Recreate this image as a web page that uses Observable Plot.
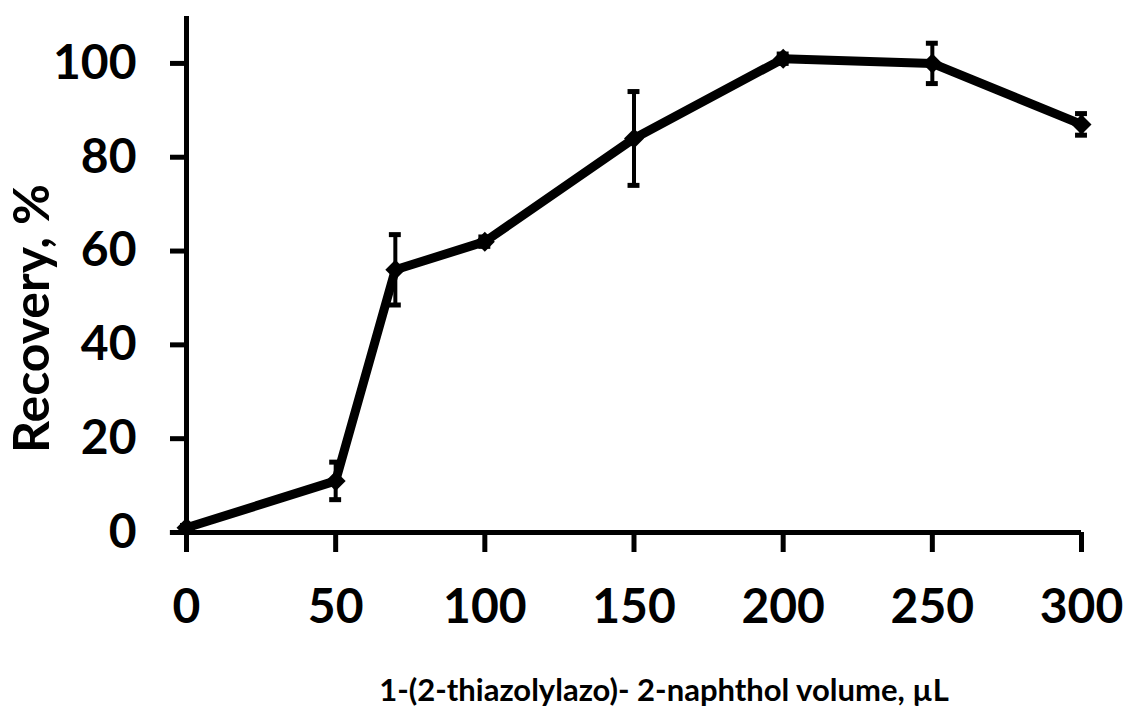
<!DOCTYPE html>
<html>
<head>
<meta charset="utf-8">
<script src="https://cdn.jsdelivr.net/npm/d3@7"></script>
<script src="https://cdn.jsdelivr.net/npm/@observablehq/plot@0.6"></script>
<style>
  html, body { margin: 0; padding: 0; background: #fff; }
  #chart svg { display: block; }
</style>
</head>
<body>
<div id="chart"></div>
<script>
const volumes = [0, 50, 70, 100, 150, 200, 250, 300];
const recovery = [1, 11, 56, 62, 84, 101, 100, 87];
const errors = [0.5, 4, 7.5, 1, 10, 1, 4.3, 2.3];
const xTicks = [0, 50, 100, 150, 200, 250, 300];
const yTicks = [0, 20, 40, 60, 80, 100];
const xTitle = "1-(2-thiazolylazo)- 2-naphthol volume, µL";
const yTitle = "Recovery, %";

const data = volumes.map((v, i) => ({x: v, y: recovery[i], lo: recovery[i] - errors[i], hi: recovery[i] + errors[i]}));
const caps = data.flatMap(d => [{x1: d.x - 2, x2: d.x + 2, y: d.lo}, {x1: d.x - 2, x2: d.x + 2, y: d.hi}]);

const font = "Lato, 'Liberation Sans', sans-serif";

const chart = Plot.plot({
  width: 1127,
  height: 719,
  marginLeft: 186,
  marginRight: 46,
  marginTop: 16,
  marginBottom: 187,
  style: {fontFamily: font, background: "#fff", color: "#000"},
  x: {domain: [0, 300]},
  y: {domain: [0, 110]},
  marks: [
    Plot.axisY({ticks: yTicks, tickSize: 16, tickPadding: 34, strokeWidth: 5, fontSize: 48, fontWeight: "bold", label: null}),
    Plot.axisX({ticks: xTicks, tickSize: 20, tickPadding: 36, strokeWidth: 5, fontSize: 48, fontWeight: "bold", label: null}),
    Plot.ruleY([0], {x1: -5.4, x2: 300, stroke: "#000", strokeWidth: 5, clip: false}),
    Plot.ruleX([0], {y1: 0, y2: 110, stroke: "#000", strokeWidth: 5}),
    Plot.ruleX(data, {x: "x", y1: "lo", y2: "hi", stroke: "#000", strokeWidth: 4}),
    Plot.ruleY(caps, {x1: "x1", x2: "x2", y: "y", stroke: "#000", strokeWidth: 5}),
    Plot.line(data, {x: "x", y: "y", stroke: "#000", strokeWidth: 9, strokeLinejoin: "miter"}),
    Plot.dot(data, {x: "x", y: "y", symbol: "diamond2", r: 9, fill: "#000", stroke: "none"}),
    Plot.text([xTitle], {frameAnchor: "bottom", dy: 168, dx: 30, fontSize: 31, fontWeight: "bold", fill: "#000", lineAnchor: "bottom"}),
    Plot.text([yTitle], {frameAnchor: "left", dx: -154, dy: 44, rotate: -90, textAnchor: "middle", fontSize: 50, fontWeight: "bold", fill: "#000"})
  ]
});
document.getElementById("chart").appendChild(chart);
</script>
</body>
</html>
